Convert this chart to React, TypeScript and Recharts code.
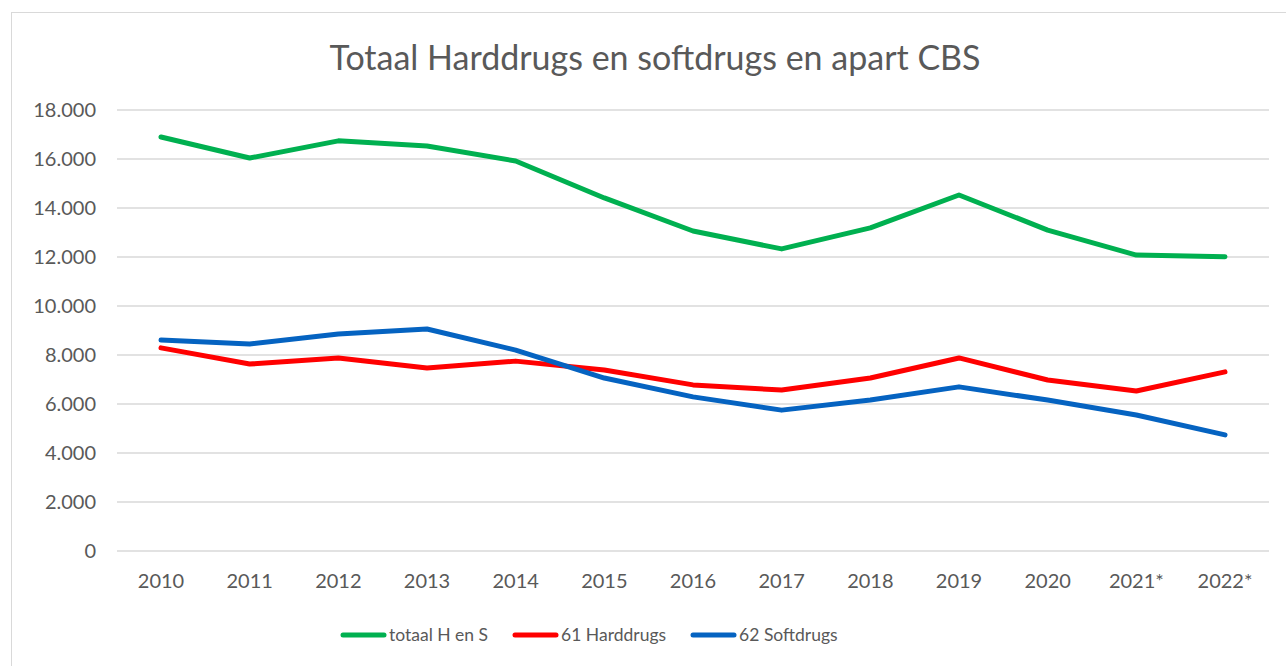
import React from 'react';
import { LineChart, Line, XAxis, YAxis, CartesianGrid } from 'recharts';

const years = ['2010', '2011', '2012', '2013', '2014', '2015', '2016', '2017', '2018', '2019', '2020', '2021*', '2022*'];
const totaal = [16900, 16040, 16740, 16530, 15920, 14410, 13060, 12330, 13190, 14530, 13100, 12080, 12010];
const hard = [8290, 7630, 7880, 7470, 7750, 7390, 6780, 6570, 7060, 7880, 6980, 6530, 7310];
const soft = [8610, 8450, 8860, 9060, 8200, 7060, 6290, 5750, 6160, 6700, 6160, 5550, 4740];
const yTicks = [0, 2000, 4000, 6000, 8000, 10000, 12000, 14000, 16000, 18000];

const series = [
  { key: 'totaal', name: 'totaal H en S', color: '#00B050' },
  { key: 'hard', name: '61 Harddrugs', color: '#FF0000' },
  { key: 'soft', name: '62 Softdrugs', color: '#0563C1' },
];

const data = years.map((y, i) => ({ year: y, totaal: totaal[i], hard: hard[i], soft: soft[i] }));

const FONT = 'Lato, "Open Sans", sans-serif';
const TXT = '#595959';

const fmt = (v: number) => (v === 0 ? '0' : v.toLocaleString('de-DE'));

const LegendBox = () => (
  <div style={{ position: 'absolute', left: 338, top: 623, display: 'flex', alignItems: 'center', fontFamily: FONT, fontSize: 17.5, color: TXT, lineHeight: '24px' }}>
    {series.map((s) => (
      <div key={s.key} style={{ display: 'flex', alignItems: 'center', marginRight: 22 }}>
        <svg width={50} height={10} style={{ marginRight: 1 }}>
          <line x1={5} y1={5} x2={46} y2={5} stroke={s.color} strokeWidth={5} strokeLinecap="round" />
        </svg>
        <span>{s.name}</span>
      </div>
    ))}
  </div>
);

export default function App() {
  return (
    <div style={{ position: 'fixed', left: 0, top: 0, width: 1286, height: 666, background: '#fff' }}>
      <div style={{ position: 'absolute', left: 11, top: 12, width: 1285, height: 660, border: '1px solid #D9D9D9', boxSizing: 'border-box' }} />
      <div style={{ position: 'absolute', left: 0, top: 35, width: 1310, textAlign: 'center', fontFamily: FONT, fontSize: 34, color: TXT, lineHeight: '44px' }}>
        Totaal Harddrugs en softdrugs en apart CBS
      </div>
      <div style={{ position: 'absolute', left: 0, top: 0 }}>
        <LineChart width={1286} height={666} data={data} margin={{ top: 110, right: 17, bottom: 85, left: 57 }}>
          <CartesianGrid vertical={false} stroke="#D9D9D9" strokeWidth={1.5} />
          <XAxis
            dataKey="year"
            axisLine={false}
            tickLine={false}
            tickMargin={17}
            padding={{ left: 44, right: 44 }}
            tick={{ fill: TXT, fontSize: 20, fontFamily: FONT }}
            interval={0}
          />
          <YAxis
            width={60}
            domain={[0, 18000]}
            ticks={yTicks}
            axisLine={false}
            tickLine={false}
            tickMargin={15}
            tickFormatter={fmt}
            tick={{ fill: TXT, fontSize: 20, fontFamily: FONT }}
          />
          {series.map((s) => (
            <Line
              key={s.key}
              dataKey={s.key}
              name={s.name}
              stroke={s.color}
              strokeWidth={5}
              dot={false}
              strokeLinecap="round"
              strokeLinejoin="round"
              type="linear"
              isAnimationActive={false}
            />
          ))}
        </LineChart>
      </div>
      <LegendBox />
    </div>
  );
}
